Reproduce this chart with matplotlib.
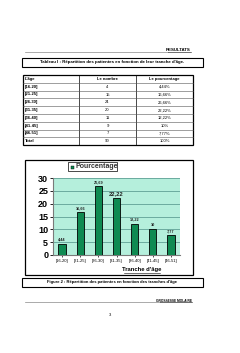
import matplotlib.pyplot as plt
from matplotlib.patches import Rectangle

plt.rcParams['font.family'] = ['Liberation Sans', 'DejaVu Sans']

# donnees du tableau
tranches = ['[16-20]', '[21-25]', '[26-30]', '[31-35]', '[36-40]', '[41-45]', '[46-51]']
nombre = [4, 15, 24, 20, 11, 9, 7]
pourcent_txt = ['4,44%', '16,66%', '26,66%', '22,22%', '12,22%', '10%', '7,77%']
total_nb = 90
total_pct = '100%'

# donnees du graphique
pourcentage = [4.44, 16.66, 26.69, 22.22, 12.22, 10, 7.77]
etiquettes = ['4,44', '16,66', '26,69', '22,22', '12,22', '10', '7,77']
yticks = [0, 5, 10, 15, 20, 25, 30]

W, H = 240, 353
fig = plt.figure(figsize=(W / 100, H / 100), dpi=100)
fig.patch.set_facecolor('white')


def fx(x):
    return x / W


def fy(y):
    return 1 - y / H


def hline(x0, x1, y, lw=0.6, color='black'):
    fig.add_artist(plt.Line2D([fx(x0), fx(x1)], [fy(y), fy(y)], lw=lw, color=color))


def vline(x, y0, y1, lw=0.6, color='black'):
    fig.add_artist(plt.Line2D([fx(x), fx(x)], [fy(y0), fy(y1)], lw=lw, color=color))


def box(x0, y0, x1, y1, lw=0.8):
    fig.add_artist(Rectangle((fx(x0), fy(y1)), fx(x1) - fx(x0), fy(y0) - fy(y1),
                             fill=False, lw=lw, edgecolor='black'))


# en-tete
hline(25, 168, 52, lw=0.5, color='#888888')
fig.text(fx(191), fy(50), 'RESULTATS', fontsize=3.2, fontweight='bold', ha='right', va='center')
hline(168, 191, 52, lw=0.4)

# titre tableau
box(22, 58, 203, 67)
fig.text(fx(112), fy(62.5), "Tableau I : Répartition des patientes en fonction de leur tranche d'âge.",
         fontsize=3.2, fontweight='bold', ha='center', va='center')

# tableau
tx0, tx1 = 23, 193
cols = [23, 79, 136, 193]
ty0, row_h = 75, 7.8
n_rows = len(tranches) + 2
box(tx0, ty0, tx1, ty0 + n_rows * row_h, lw=0.9)
for c in cols[1:-1]:
    vline(c, ty0, ty0 + n_rows * row_h, lw=0.5)
for i in range(1, n_rows):
    hline(tx0, tx1, ty0 + i * row_h, lw=0.4, color='#555555')

rows = [["L'âge", 'Le nombre', 'Le pourcentage']]
for t, n, p in zip(tranches, nombre, pourcent_txt):
    rows.append([t, str(n), p])
rows.append(['Total', str(total_nb), total_pct])
for i, r in enumerate(rows):
    yc = fy(ty0 + (i + 0.5) * row_h)
    bold = (i == 0) or (r[0] == 'Total') or True
    fig.text(fx(cols[0] + 2), yc, r[0], fontsize=3.0,
             fontweight='bold' if (i == 0 or i == n_rows - 1 or True) else 'normal', va='center')
    fig.text(fx((cols[1] + cols[2]) / 2), yc, r[1], fontsize=3.0,
             fontweight='bold' if i == 0 else 'normal', ha='center', va='center')
    fig.text(fx((cols[2] + cols[3]) / 2), yc, r[2], fontsize=3.0,
             fontweight='bold' if i == 0 else 'normal', ha='center', va='center')

# cadre du graphique
box(25, 160, 193, 275, lw=0.9)

ax = fig.add_axes([fx(53), fy(255), fx(180) - fx(53), fy(178) - fy(255)])
ax.set_facecolor('#b5efdc')
ax.set_xlim(-0.5, len(tranches) - 0.5)
ax.set_ylim(0, 30)
for v in yticks[1:]:
    ax.axhline(v, color='#5f9f95', lw=0.6, zorder=1)
x = list(range(len(tranches)))
ax.bar(x, pourcentage, width=0.4, color='#0f8a52', edgecolor='black', lw=0.6, zorder=3)
for xi, v, lab in zip(x, pourcentage, etiquettes):
    big = lab == '22,22'
    ax.text(xi, v + 0.8, lab, ha='center', va='bottom',
            fontsize=4.2 if big else 2.8, fontweight='bold',
            color='#222222')
ax.set_yticks(yticks)
ax.set_yticklabels([str(v) for v in yticks], fontsize=6.5, fontweight='bold')
ax.set_xticks(x)
ax.set_xticklabels(tranches, fontsize=3.0)
ax.tick_params(axis='y', length=2, width=0.6, pad=1.5)
ax.tick_params(axis='x', length=1.5, width=0.5, pad=1.5)
for s in ['top', 'right']:
    ax.spines[s].set_visible(False)
ax.spines['left'].set_color('#7a7a7a')
ax.spines['bottom'].set_color('#7a7a7a')

fig.text(fx(142), fy(270), "Tranche d'âge", fontsize=4.2, fontweight='bold',
         ha='center', va='center')
hline(124, 160, 272.5, lw=0.4)

# legende
box(68, 162, 117, 171, lw=0.5)
fig.add_artist(Rectangle((fx(71), fy(168.5)), fx(3) - fx(0), fy(0) - fy(3),
                         facecolor='#0f8a52', edgecolor='black', lw=0.3))
fig.text(fx(75), fy(166.5), 'Pourcentage', fontsize=5.0, fontweight='bold',
         va='center', color='#333333')

# titre figure
box(22, 278, 203, 287)
fig.text(fx(112), fy(282.5), "Figure 2 : Répartition des patientes en fonction des tranches d'âge",
         fontsize=3.0, fontweight='bold', ha='center', va='center')

# pied de page
hline(25, 160, 302, lw=0.5, color='#888888')
fig.text(fx(192), fy(301), 'GROSSESSE MOLAIRE', fontsize=2.3, fontweight='bold',
         ha='right', va='center')
hline(160, 192, 302, lw=0.4)
fig.text(fx(110), fy(315), '3', fontsize=3.0, ha='center', va='center')

fig.savefig('out.png', dpi=100, facecolor='white')
